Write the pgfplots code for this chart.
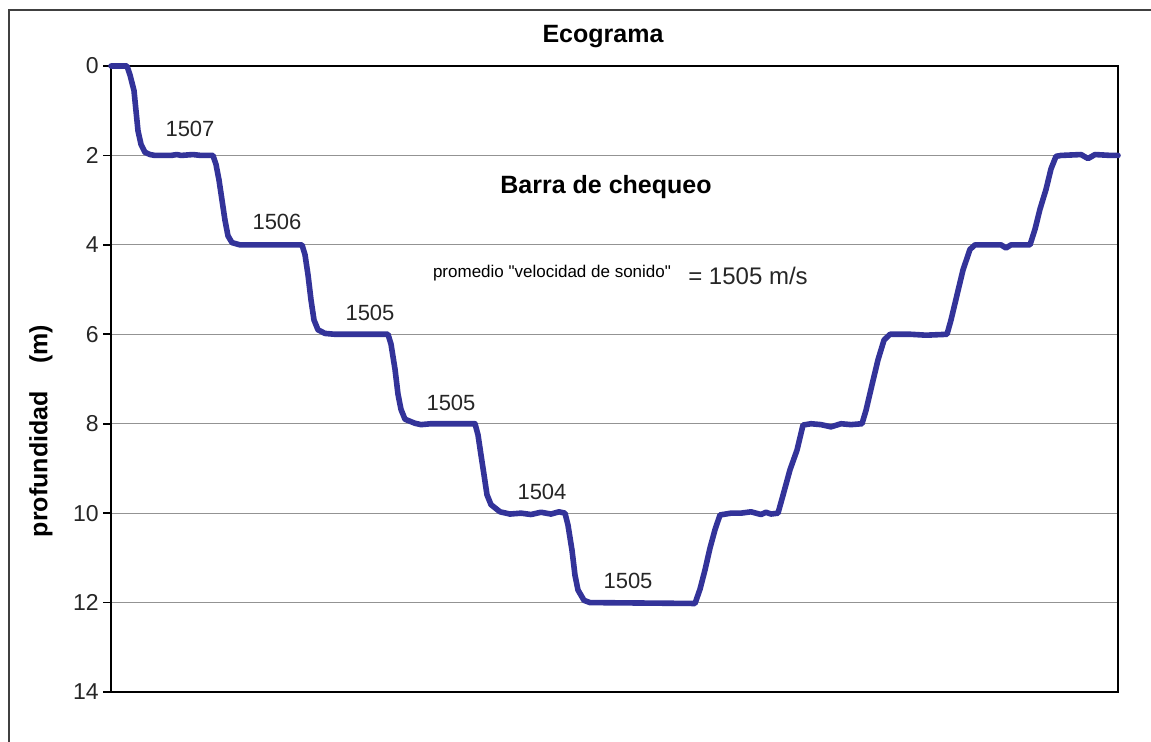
\documentclass[border=0pt]{standalone}
\usepackage{pgfplots}
\pgfplotsset{compat=1.18}
\usepackage{fontspec}
\setmainfont{Liberation Sans}
\definecolor{lineblue}{HTML}{333399}
\begin{document}
\begin{tikzpicture}
\useasboundingbox (0,0) rectangle (575.5pt,370.5pt);
\draw[line width=1pt, black!75] (4.5pt,-10pt) |- (590pt,365.5pt);
\node[font=\fontsize{12.5}{14}\selectfont\bfseries] at (301.5pt,352pt) {Ecograma};
\node[font=\fontsize{12.5}{14}\selectfont\bfseries, rotate=90] at (20.5pt,155pt) {profundidad\hspace{1.1em}(m)};
\begin{axis}[
  at={(55.5pt,24.5pt)}, anchor=south west,
  width=503.5pt, height=313pt, scale only axis,
  y dir=reverse,
  xmin=0, xmax=1007, ymin=0, ymax=14,
  xtick=\empty,
  ytick={0,2,...,14},
  ytick pos=left,
  tick align=outside,
  major tick length=4pt,
  ymajorgrids,
  grid style={line width=0.6pt, gray!85},
  axis line style={line width=0.8pt, black},
  tick style={line width=0.8pt, black},
  yticklabel style={font=\fontsize{11.5}{13}\selectfont, inner sep=2pt, text=black!85},
  /pgf/number format/assume math mode=true,
  clip=false,
]
\addplot[lineblue, line width=2.8pt, line join=round, line cap=round] coordinates {
(0,0) (16,0) (19,0.2) (23,0.55) (25,1.0) (27,1.45) (30,1.75) (34,1.93) (39,1.98) (44,2.0) (60,2.0) (66,1.98) (70,2.0) (82,1.98) (90,2.0) (102,2.0)
(105,2.2) (108,2.55) (111,3.0) (114,3.45) (117,3.8) (121,3.95) (129,4.0) (191,4.0)
(194,4.22) (197,4.67) (200,5.23) (203,5.68) (207,5.9) (214,5.98) (224,6.0) (277,6.0)
(280,6.22) (284,6.78) (287,7.34) (290,7.68) (294,7.9) (304,7.99) (310,8.02) (320,8.0) (364,8.0)
(367,8.25) (370,8.7) (373,9.14) (376,9.59) (380,9.81) (389,9.97) (399,10.02) (410,10.0) (420,10.03) (430,9.98) (440,10.02) (448,9.97) (454,10.0)
(457,10.27) (461,10.83) (464,11.39) (467,11.72) (473,11.95) (479,12.0) (584,12.02)
(589,11.7) (594,11.27) (599,10.78) (604,10.37) (609,10.04) (620,10.0) (630,10.0) (640,9.97) (650,10.03) (655,9.98) (660,10.02) (667,10.0)
(672,9.6) (679,9.03) (686,8.59) (692,8.03) (700,8.0) (710,8.02) (720,8.07) (730,8.0) (740,8.02) (751,8.0)
(755,7.7) (761,7.13) (767,6.57) (773,6.13) (779,6.0) (800,6.0) (815,6.02) (836,6.0)
(840,5.68) (846,5.12) (852,4.56) (859,4.1) (864,4.0) (890,4.0) (895,4.07) (900,4.0) (919,4.0)
(924,3.65) (929,3.2) (935,2.76) (940,2.3) (945,2.02) (950,2.0) (970,1.98) (977,2.07) (984,1.98) (1000,2.0) (1007,2.0)
};
\begin{scope}[every node/.style={font=\fontsize{11}{12}\selectfont, text=black!85}]
\node at (axis cs:79,1.41) {1507};
\node at (axis cs:166,3.49) {1506};
\node at (axis cs:259,5.52) {1505};
\node at (axis cs:340,7.54) {1505};
\node at (axis cs:431,9.53) {1504};
\node at (axis cs:517,11.52) {1505};
\end{scope}
\node[font=\fontsize{12.5}{14}\selectfont\bfseries] at (axis cs:495,2.71) {Barra de chequeo};
\node[font=\fontsize{8.5}{10}\selectfont] at (axis cs:441,4.63) {promedio \textquotedbl velocidad de sonido\textquotedbl};
\node[font=\fontsize{12}{14}\selectfont, text=black!85] at (axis cs:637,4.70) {= 1505 m/s};
\end{axis}
\end{tikzpicture}
\end{document}
